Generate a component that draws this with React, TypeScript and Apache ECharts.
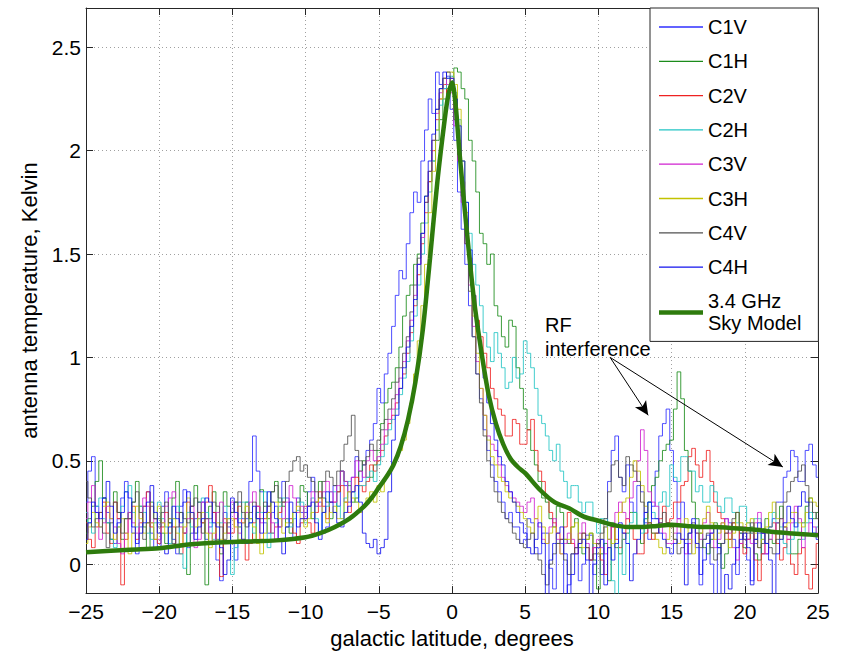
import React, { useEffect, useRef } from 'react';
import * as echarts from 'echarts';

// galactic latitude grid (degrees)
const latitude = [
  -25, -24.75, -24.5, -24.25, -24, -23.75, -23.5, -23.25, -23, -22.75, -22.5, -22.25, -22, -21.75, -21.5, -21.25, -21, -20.75, -20.5, -20.25,
  -20, -19.75, -19.5, -19.25, -19, -18.75, -18.5, -18.25, -18, -17.75, -17.5, -17.25, -17, -16.75, -16.5, -16.25, -16, -15.75, -15.5, -15.25,
  -15, -14.75, -14.5, -14.25, -14, -13.75, -13.5, -13.25, -13, -12.75, -12.5, -12.25, -12, -11.75, -11.5, -11.25, -11, -10.75, -10.5, -10.25,
  -10, -9.75, -9.5, -9.25, -9, -8.75, -8.5, -8.25, -8, -7.75, -7.5, -7.25, -7, -6.75, -6.5, -6.25, -6, -5.75, -5.5, -5.25,
  -5, -4.75, -4.5, -4.25, -4, -3.75, -3.5, -3.25, -3, -2.75, -2.5, -2.25, -2, -1.75, -1.5, -1.25, -1, -0.75, -0.5, -0.25,
  0, 0.25, 0.5, 0.75, 1, 1.25, 1.5, 1.75, 2, 2.25, 2.5, 2.75, 3, 3.25, 3.5, 3.75, 4, 4.25, 4.5, 4.75,
  5, 5.25, 5.5, 5.75, 6, 6.25, 6.5, 6.75, 7, 7.25, 7.5, 7.75, 8, 8.25, 8.5, 8.75, 9, 9.25, 9.5, 9.75,
  10, 10.25, 10.5, 10.75, 11, 11.25, 11.5, 11.75, 12, 12.25, 12.5, 12.75, 13, 13.25, 13.5, 13.75, 14, 14.25, 14.5, 14.75,
  15, 15.25, 15.5, 15.75, 16, 16.25, 16.5, 16.75, 17, 17.25, 17.5, 17.75, 18, 18.25, 18.5, 18.75, 19, 19.25, 19.5, 19.75,
  20, 20.25, 20.5, 20.75, 21, 21.25, 21.5, 21.75, 22, 22.25, 22.5, 22.75, 23, 23.25, 23.5, 23.75, 24, 24.25, 24.5, 24.75,
  25,
];

const c1v = [
  0.30, 0.45, 0.52, 0.28, 0.18, 0.32, 0.25, 0.12, 0.10, 0.22, 0.32, 0.40, 0.22, 0.15, 0.05, 0.18, 0.28, 0.35, 0.15, 0.08,
  0.20, 0.28, 0.35, 0.22, 0.12, 0.05, 0.28, 0.36, 0.08, 0.15, 0.22, 0.30, 0.30, 0.12, 0.18, 0.25, 0.02, -0.08, 0.25, 0.18,
  0.10, 0.02, 0.30, 0.22, 0.22, 0.40, 0.62, 0.45, 0.35, 0.20, 0.15, 0.25, 0.28, 0.18, 0.40, 0.32, 0.20, 0.12, 0.32, 0.25,
  0.25, 0.35, 0.42, 0.28, 0.30, 0.15, 0.18, 0.30, 0.38, 0.28, 0.45, 0.38, 0.30, 0.42, 0.52, 0.40, 0.48, 0.55, 0.60, 0.68,
  0.85, 0.78, 0.92, 1.02, 1.15, 1.30, 1.42, 1.38, 1.55, 1.70, 1.80, 1.75, 1.95, 2.10, 2.25, 2.18, 2.38, 2.32, 2.30, 2.36,
  2.20, 2.05, 1.80, 1.62, 1.45, 1.25, 1.10, 0.92, 0.80, 0.65, 0.55, 0.48, 0.40, 0.35, 0.30, 0.22, 0.25, 0.18, 0.18, 0.10,
  0.12, 0.22, 0.20, 0.08, 0.05, 0.15, 0.15, -0.02, -0.12, 0.10, 0.10, -0.15, -0.10, 0.05, 0.08, -0.08, 0.00, 0.14, 0.14, -0.05,
  0.05, -0.05, 0.18, 0.40, 0.55, 0.62, 0.42, 0.35, 0.48, 0.30, 0.25, 0.38, 0.35, 0.20, 0.12, 0.28, 0.45, 0.62, 0.68, 0.75,
  0.55, 0.40, 0.22, 0.30, 0.10, 0.05, 0.18, 0.08, -0.10, 0.12, 0.14, 0.00, -0.15, 0.08, 0.10, 0.22, 0.20, 0.12, -0.05, 0.15,
  0.12, 0.02, -0.08, 0.10, 0.15, 0.05, 0.05, 0.18, 0.22, 0.30, 0.30, 0.42, 0.45, 0.55, 0.52, 0.40, 0.40, 0.55, 0.58, 0.48,
  0.42,
];

const c1h = [
  0.15, 0.22, 0.28, 0.40, 0.50, 0.32, 0.20, 0.12, 0.35, 0.25, 0.12, 0.22, 0.25, 0.30, 0.40, 0.28, 0.18, 0.08, 0.30, 0.22,
  0.22, 0.15, 0.10, 0.20, 0.32, 0.40, 0.25, 0.15, -0.05, 0.28, 0.38, 0.30, 0.20, -0.10, 0.28, 0.35, 0.12, 0.05, 0.35, 0.28,
  0.25, 0.30, 0.18, 0.10, 0.30, 0.22, 0.12, 0.25, 0.36, 0.28, 0.22, 0.35, 0.40, 0.30, 0.28, 0.18, 0.15, 0.25, 0.30, 0.38,
  0.35, 0.28, 0.22, 0.30, 0.40, 0.32, 0.30, 0.22, 0.25, 0.35, 0.45, 0.40, 0.38, 0.30, 0.32, 0.45, 0.50, 0.42, 0.42, 0.48,
  0.55, 0.68, 0.78, 0.85, 0.88, 0.95, 1.05, 1.20, 1.30, 1.35, 1.45, 1.50, 1.65, 1.78, 1.85, 1.95, 2.05, 2.15, 2.25, 2.30,
  2.32, 2.40, 2.38, 2.30, 2.25, 2.05, 1.95, 1.80, 1.60, 1.55, 1.45, 1.50, 1.25, 1.20, 1.10, 1.05, 1.18, 1.15, 0.95, 0.85,
  0.75, 0.65, 0.55, 0.48, 0.40, 0.32, 0.30, 0.22, 0.18, 0.28, 0.25, 0.12, 0.10, 0.18, 0.22, 0.08, 0.05, 0.12, 0.15, 0.02,
  -0.12, 0.05, 0.10, -0.08, 0.20, 0.08, 0.05, 0.12, 0.15, 0.25, 0.25, 0.18, 0.10, 0.22, 0.30, 0.38, 0.42, 0.50, 0.55, 0.58,
  0.60, 0.75, 0.93, 0.80, 0.55, 0.45, 0.30, 0.22, 0.15, 0.08, 0.05, 0.12, 0.20, 0.10, -0.02, 0.05, 0.12, 0.20, 0.25, 0.15,
  0.08, 0.12, 0.18, 0.05, 0.02, 0.15, 0.22, 0.12, 0.10, 0.20, 0.28, 0.18, 0.15, 0.05, 0.05, 0.12, 0.20, 0.28, 0.32, 0.22,
  0.25,
];

const c2v = [
  0.20, 0.12, 0.08, 0.18, 0.25, 0.30, 0.15, 0.10, 0.30, 0.22, -0.10, 0.12, 0.22, 0.28, 0.12, 0.20, 0.28, 0.35, 0.18, 0.12,
  0.10, 0.18, 0.25, 0.15, 0.18, 0.08, 0.05, 0.15, 0.30, 0.22, 0.15, 0.25, 0.20, 0.30, 0.38, 0.25, 0.10, -0.06, 0.22, 0.15,
  0.15, 0.22, 0.28, 0.12, 0.02, 0.10, 0.20, 0.28, 0.12, 0.22, 0.25, 0.15, 0.18, 0.25, 0.30, 0.22, 0.22, 0.15, 0.10, 0.20,
  0.28, 0.20, 0.15, 0.25, 0.35, 0.28, 0.22, 0.30, 0.30, 0.35, 0.38, 0.30, 0.25, 0.35, 0.42, 0.38, 0.35, 0.40, 0.48, 0.45,
  0.50, 0.55, 0.62, 0.68, 0.72, 0.78, 0.85, 0.92, 1.02, 1.12, 1.25, 1.40, 1.55, 1.70, 1.85, 2.00, 2.15, 2.25, 2.32, 2.28,
  2.35, 2.20, 2.05, 1.85, 1.65, 1.48, 1.30, 1.18, 1.10, 1.02, 0.95, 0.85, 0.80, 0.75, 0.72, 0.62, 0.62, 0.70, 0.68, 0.58,
  0.58, 0.65, 0.70, 0.55, 0.45, 0.40, 0.32, 0.25, 0.20, 0.15, 0.12, 0.18, 0.25, 0.10, 0.05, 0.10, 0.15, 0.08, 0.02, 0.08,
  0.10, 0.02, -0.05, 0.08, 0.18, 0.12, 0.08, 0.15, 0.22, 0.18, 0.12, 0.05, 0.05, 0.15, 0.20, 0.12, 0.15, 0.22, 0.28, 0.20,
  0.22, 0.30, 0.30, 0.38, 0.40, 0.52, 0.56, 0.48, 0.42, 0.50, 0.55, 0.40, 0.30, 0.25, 0.22, 0.15, 0.12, 0.20, 0.18, 0.10,
  0.05, 0.12, 0.15, 0.02, -0.08, 0.05, 0.10, 0.18, 0.20, 0.10, 0.02, 0.08, 0.12, 0.00, -0.05, 0.05, 0.08, -0.05, -0.12, -0.02,
  0.10,
];

const c2h = [
  0.25, 0.20, 0.15, 0.28, 0.32, 0.22, 0.20, 0.12, 0.08, 0.18, 0.28, 0.35, 0.38, 0.25, 0.18, 0.28, 0.25, 0.15, 0.12, 0.20,
  0.30, 0.22, 0.18, 0.10, 0.22, 0.28, 0.05, -0.02, 0.25, 0.18, 0.15, 0.22, 0.32, 0.25, 0.20, 0.12, 0.10, 0.20, 0.28, 0.22,
  -0.05, 0.08, 0.22, 0.30, 0.30, 0.20, 0.15, 0.25, 0.25, 0.35, 0.08, 0.15, 0.20, 0.28, 0.32, 0.22, 0.18, 0.22, 0.26, 0.30,
  0.20, 0.28, 0.32, 0.22, 0.15, 0.25, 0.28, 0.35, 0.35, 0.28, 0.22, 0.32, 0.40, 0.35, 0.30, 0.38, 0.38, 0.42, 0.45, 0.40,
  0.48, 0.52, 0.58, 0.65, 0.70, 0.75, 0.82, 0.90, 0.98, 1.08, 1.20, 1.35, 1.50, 1.65, 1.80, 1.95, 2.10, 2.22, 2.30, 2.35,
  2.36, 2.28, 2.15, 1.95, 1.75, 1.60, 1.45, 1.35, 1.25, 1.12, 1.05, 0.98, 1.12, 1.02, 0.95, 0.85, 0.88, 1.00, 0.90, 0.92,
  1.08, 1.02, 0.95, 0.85, 0.72, 0.68, 0.62, 0.55, 0.50, 0.58, 0.45, 0.40, 0.32, 0.38, 0.38, 0.30, 0.25, 0.30, 0.30, 0.22,
  0.15, 0.22, 0.22, 0.12, -0.08, -0.15, 0.18, -0.05, 0.10, 0.20, 0.25, 0.18, 0.15, 0.22, 0.30, 0.25, 0.22, 0.30, 0.35, 0.28,
  0.48, 0.42, 0.40, 0.52, 0.52, 0.45, 0.45, 0.35, 0.38, 0.30, 0.30, 0.38, 0.35, 0.28, 0.25, 0.32, 0.32, 0.25, 0.20, 0.28,
  0.28, 0.20, 0.15, 0.22, 0.22, 0.12, 0.10, 0.18, 0.25, 0.20, 0.18, 0.10, 0.05, 0.12, 0.20, 0.15, 0.12, 0.20, 0.25, 0.15,
  0.18,
];

const c3v = [
  0.22, 0.30, 0.38, 0.25, 0.12, 0.20, 0.28, 0.22, 0.18, 0.10, 0.05, 0.15, 0.25, 0.20, 0.15, 0.25, 0.32, 0.28, 0.20, 0.22,
  0.12, 0.20, 0.28, 0.32, 0.35, 0.25, 0.18, 0.15, 0.22, 0.28, 0.08, 0.12, 0.30, 0.22, 0.15, 0.10, 0.25, 0.30, 0.20, 0.15,
  0.30, 0.22, 0.15, 0.20, 0.25, 0.30, 0.35, 0.28, 0.20, 0.25, 0.28, 0.20, 0.12, 0.18, 0.22, 0.30, 0.38, 0.32, 0.25, 0.28,
  0.22, 0.28, 0.35, 0.30, 0.28, 0.35, 0.40, 0.35, 0.30, 0.38, 0.45, 0.40, 0.35, 0.42, 0.50, 0.45, 0.42, 0.50, 0.55, 0.50,
  0.52, 0.58, 0.65, 0.70, 0.75, 0.82, 0.90, 0.98, 1.08, 1.18, 1.30, 1.45, 1.58, 1.75, 1.90, 2.05, 2.18, 2.28, 2.35, 2.32,
  2.28, 2.12, 1.95, 1.75, 1.55, 1.35, 1.15, 0.98, 0.85, 0.72, 0.62, 0.58, 0.55, 0.48, 0.42, 0.38, 0.35, 0.32, 0.30, 0.28,
  0.25, 0.30, 0.32, 0.22, 0.18, 0.12, 0.10, 0.18, 0.22, 0.12, 0.05, 0.10, 0.15, 0.12, 0.08, 0.15, 0.20, 0.10, 0.02, 0.08,
  0.12, 0.08, 0.05, 0.12, 0.18, 0.25, 0.30, 0.25, 0.22, 0.32, 0.40, 0.50, 0.65, 0.55, 0.35, 0.30, 0.28, 0.20, 0.15, 0.10,
  0.10, 0.15, 0.22, 0.12, 0.05, 0.10, 0.18, 0.15, 0.12, 0.20, 0.25, 0.15, 0.08, 0.12, 0.20, 0.22, 0.15, 0.08, 0.02, 0.10,
  0.18, 0.12, 0.10, 0.20, 0.25, 0.15, 0.05, 0.12, 0.15, 0.20, 0.22, 0.18, 0.12, 0.20, 0.28, 0.22, 0.08, 0.15, 0.20, 0.18,
  0.15,
];

const c3h = [
  0.10, 0.18, 0.25, 0.20, 0.18, 0.28, 0.30, 0.22, 0.12, 0.18, 0.22, 0.15, 0.05, 0.15, 0.28, 0.22, 0.15, 0.20, 0.20, 0.12,
  0.28, 0.20, 0.15, 0.22, 0.22, 0.15, 0.10, 0.18, 0.32, 0.25, 0.18, 0.22, 0.25, 0.15, 0.08, 0.15, 0.20, 0.12, 0.15, 0.22,
  0.22, 0.18, 0.12, 0.20, 0.28, 0.22, 0.18, 0.10, 0.05, 0.15, 0.25, 0.30, 0.30, 0.22, 0.15, 0.20, 0.20, 0.25, 0.28, 0.22,
  0.18, 0.22, 0.25, 0.30, 0.32, 0.25, 0.20, 0.25, 0.28, 0.22, 0.22, 0.30, 0.35, 0.32, 0.30, 0.25, 0.28, 0.32, 0.35, 0.30,
  0.38, 0.35, 0.42, 0.45, 0.48, 0.52, 0.55, 0.60, 0.68, 0.78, 0.92, 1.08, 1.25, 1.45, 1.70, 1.90, 2.10, 2.25, 2.35, 2.38,
  2.38, 2.32, 2.20, 1.95, 1.70, 1.45, 1.20, 1.02, 0.85, 0.72, 0.60, 0.52, 0.48, 0.42, 0.40, 0.35, 0.32, 0.30, 0.28, 0.25,
  0.22, 0.18, 0.15, 0.22, 0.28, 0.18, 0.10, 0.15, 0.18, 0.10, 0.05, 0.12, 0.12, 0.18, 0.20, 0.12, 0.08, 0.12, 0.15, 0.10,
  0.05, 0.12, 0.18, 0.12, 0.10, 0.18, 0.25, 0.30, 0.32, 0.42, 0.50, 0.45, 0.38, 0.28, 0.20, 0.15, 0.12, 0.08, 0.05, 0.12,
  0.18, 0.12, 0.10, 0.18, 0.22, 0.12, 0.05, 0.10, 0.15, 0.22, 0.28, 0.20, 0.12, 0.15, 0.20, 0.12, 0.08, 0.15, 0.25, 0.20,
  0.15, 0.20, 0.22, 0.15, 0.08, 0.12, 0.18, 0.25, 0.30, 0.22, 0.12, 0.18, 0.20, 0.25, 0.25, 0.20, 0.18, 0.25, 0.32, 0.30,
  0.28,
];

const c4v = [
  0.40, 0.32, 0.18, 0.22, 0.25, 0.15, 0.08, 0.20, 0.30, 0.25, 0.15, 0.22, 0.22, 0.30, 0.35, 0.25, 0.12, 0.20, 0.28, 0.22,
  0.18, 0.25, 0.30, 0.20, 0.10, 0.18, 0.25, 0.22, 0.20, 0.28, 0.32, 0.25, 0.15, 0.22, 0.22, 0.30, 0.28, 0.18, 0.12, 0.20,
  0.25, 0.30, 0.35, 0.25, 0.18, 0.25, 0.30, 0.22, 0.22, 0.30, 0.28, 0.35, 0.38, 0.32, 0.30, 0.40, 0.45, 0.50, 0.52, 0.45,
  0.48, 0.42, 0.40, 0.35, 0.32, 0.40, 0.45, 0.42, 0.38, 0.45, 0.50, 0.58, 0.62, 0.72, 0.55, 0.50, 0.48, 0.52, 0.58, 0.55,
  0.60, 0.65, 0.70, 0.75, 0.80, 0.88, 0.95, 1.02, 1.10, 1.22, 1.35, 1.48, 1.60, 1.75, 1.90, 2.05, 2.20, 2.30, 2.35, 2.38,
  2.30, 2.15, 1.98, 1.78, 1.55, 1.32, 1.10, 0.92, 0.78, 0.62, 0.50, 0.42, 0.35, 0.30, 0.25, 0.22, 0.20, 0.15, 0.12, 0.10,
  0.08, 0.12, 0.15, 0.05, 0.02, -0.05, -0.10, 0.00, 0.05, 0.10, 0.12, 0.02, -0.05, 0.05, 0.08, 0.12, 0.15, 0.08, 0.02, 0.05,
  0.10, 0.15, 0.22, 0.35, 0.48, 0.50, 0.42, 0.38, 0.52, 0.48, 0.45, 0.40, 0.30, 0.25, 0.20, 0.15, 0.15, 0.20, 0.25, 0.20,
  0.18, 0.12, 0.05, 0.08, 0.12, 0.15, 0.20, 0.15, 0.08, 0.12, 0.15, 0.08, 0.02, 0.05, 0.10, 0.15, 0.18, 0.22, 0.25, 0.18,
  0.12, 0.15, 0.20, 0.12, 0.08, 0.10, 0.15, 0.08, 0.05, 0.12, 0.22, 0.30, 0.35, 0.40, 0.42, 0.45, 0.48, 0.38, 0.30, 0.25,
  0.22,
];

const c4h = [
  0.12, 0.20, 0.30, 0.25, 0.22, 0.32, 0.40, 0.28, 0.15, 0.20, 0.25, 0.35, 0.32, 0.18, 0.10, 0.15, 0.20, 0.30, 0.38, 0.25,
  0.15, 0.08, 0.05, 0.18, 0.28, 0.22, 0.20, 0.30, 0.35, 0.25, 0.12, 0.18, 0.22, 0.32, 0.30, 0.20, 0.18, 0.08, -0.05, 0.02,
  0.32, 0.25, 0.20, 0.12, 0.10, 0.20, 0.28, 0.22, 0.15, 0.25, 0.35, 0.30, 0.22, 0.12, 0.05, 0.18, 0.30, 0.25, 0.18, 0.22,
  0.22, 0.28, 0.30, 0.20, 0.12, 0.25, 0.35, 0.30, 0.25, 0.20, 0.18, 0.25, 0.28, 0.35, 0.38, 0.30, 0.15, 0.10, 0.08, 0.12,
  0.05, 0.08, 0.12, 0.35, 0.60, 0.72, 0.85, 0.95, 1.05, 1.15, 1.28, 1.45, 1.60, 1.78, 1.95, 2.08, 2.20, 2.30, 2.38, 2.35,
  2.35, 2.25, 2.12, 1.95, 1.75, 1.52, 1.30, 1.15, 1.02, 0.90, 0.78, 0.68, 0.60, 0.52, 0.48, 0.40, 0.35, 0.30, 0.25, 0.20,
  0.15, 0.08, 0.05, 0.12, 0.20, 0.10, -0.15, 0.02, 0.10, 0.15, 0.18, 0.05, -0.18, -0.05, 0.05, 0.10, 0.12, 0.02, -0.15, 0.00,
  0.08, 0.12, -0.10, 0.08, 0.02, 0.10, 0.20, 0.15, 0.10, -0.08, 0.05, 0.12, 0.18, 0.25, 0.30, 0.22, 0.22, 0.15, 0.12, 0.08,
  0.05, 0.10, 0.15, 0.12, -0.10, 0.15, 0.22, 0.10, -0.05, 0.02, 0.10, 0.15, 0.18, 0.08, -0.15, -0.05, -0.12, 0.00, 0.08, 0.12,
  0.15, 0.08, -0.10, 0.12, 0.20, 0.15, 0.10, 0.02, -0.15, 0.05, 0.12, 0.20, 0.28, 0.22, 0.18, 0.28, 0.35, 0.30, 0.22, 0.15,
  0.12,
];

// 3.4 GHz sky model (smooth)
const skyLatitude = [
  -25, -22, -20, -18, -16, -14, -12, -10, -9, -8, -7, -6, -5.5, -5, -4.5, -4, -3.5, -3, -2.5, -2, -1.5, -1, -0.5, -0.25,
  0, 0.25, 0.5, 1, 1.5, 2, 2.5, 3, 3.5, 4, 4.5, 5, 6, 7, 8, 9, 10, 11, 12, 13, 14, 15, 16, 17, 18, 19, 20, 21, 22, 23, 24, 25,
];
const skyModel = [
  0.058, 0.07, 0.077, 0.095, 0.105, 0.11, 0.115, 0.13, 0.15, 0.18, 0.22, 0.28, 0.32, 0.37, 0.42, 0.48, 0.57, 0.70, 0.88, 1.13, 1.48, 1.85, 2.15, 2.27,
  2.33, 2.22, 2.0, 1.62, 1.28, 1.03, 0.82, 0.68, 0.58, 0.51, 0.47, 0.44, 0.36, 0.30, 0.27, 0.23, 0.21, 0.19, 0.18, 0.18, 0.185, 0.19, 0.185, 0.18, 0.18, 0.175, 0.17, 0.165, 0.155, 0.15, 0.145, 0.14,
];

const seriesNames = ['C1V', 'C1H', 'C2V', 'C2H', 'C3V', 'C3H', 'C4V', 'C4H'];
const seriesValues = [c1v, c1h, c2v, c2h, c3v, c3h, c4v, c4h];
const seriesColors = ['#2f2fff', '#1b8c1b', '#ee2222', '#22c4c4', '#d022d0', '#c2c200', '#505050', '#1212ee'];
const skyName = '3.4 GHz\nSky Model';
const skyColor = '#2e7b0d';

// annotation arrows: from label to the RF features (data coordinates)
const arrowStart = [10.8, 1.0];
const arrowEnds = [[13.4, 0.72], [22.6, 0.47]];

const FONT = 'Liberation Sans, Arial, Helvetica, sans-serif';

export default function App() {
  const ref = useRef<HTMLDivElement>(null);
  useEffect(() => {
    if (!ref.current) return;
    const chart = echarts.init(ref.current, undefined, { renderer: 'svg' });
    const axisColor = '#262626';
    const noisy = seriesNames.map((name, i) => ({
      name,
      type: 'line',
      data: latitude.map((x, j) => [x, seriesValues[i][j]]),
      step: 'middle',
      symbol: 'none',
      showSymbol: false,
      lineStyle: { color: seriesColors[i], width: 1, opacity: 0.85 },
      itemStyle: { color: seriesColors[i] },
      emphasis: { disabled: true },
      silent: true,
      z: 2,
    }));
    const legendData = [
      ...seriesNames.map((n) => ({ name: n, icon: 'path://M0,0H44V1.3H0Z' })),
      { name: skyName, icon: 'path://M0,0H44V4.5H0Z' },
    ];
    const option: any = {
      animation: false,
      textStyle: { fontFamily: FONT },
      grid: { left: 86, right: 24, top: 8, bottom: 52, containLabel: false },
      legend: {
        data: legendData,
        orient: 'vertical',
        left: 650,
        top: 8,
        itemWidth: 44,
        itemHeight: 14,
        itemGap: 12.3,
        padding: [8, 17, 7, 9],
        backgroundColor: '#fff',
        borderColor: axisColor,
        borderWidth: 1,
        borderRadius: 0,
        selectedMode: false,
        textStyle: { fontSize: 20, color: '#000', fontFamily: FONT, lineHeight: 22 },
        z: 10,
      },
      xAxis: [
        {
          type: 'value', min: -25, max: 25, interval: 5, position: 'bottom',
          axisLine: { show: true, onZero: false, lineStyle: { color: axisColor, width: 1 } },
          axisTick: { show: true, inside: true, length: 7, lineStyle: { color: axisColor } },
          axisLabel: {
            fontSize: 21, color: '#000', margin: 8, fontFamily: FONT,
            formatter: (v: number) => String(v).replace('-', '\u2212'),
          },
          splitLine: { show: true, lineStyle: { color: '#a0a0a0', type: [1, 3], width: 1 } },
          name: 'galactic latitude, degrees', nameLocation: 'middle', nameGap: 30,
          nameTextStyle: { fontSize: 22, color: '#000', fontFamily: FONT },
        },
        {
          type: 'value', min: -25, max: 25, interval: 5, position: 'top',
          axisLine: { show: true, onZero: false, lineStyle: { color: axisColor, width: 1 } },
          axisTick: { show: true, inside: true, length: 7, lineStyle: { color: axisColor } },
          axisLabel: { show: false },
          splitLine: { show: false },
        },
      ],
      yAxis: [
        {
          type: 'value', min: -0.14, max: 2.69, splitNumber: 5, position: 'left',
          axisLine: { show: true, onZero: false, lineStyle: { color: axisColor, width: 1 } },
          axisTick: { show: true, inside: true, length: 7, lineStyle: { color: axisColor } },
          axisLabel: {
            fontSize: 21, color: '#000', margin: 5, fontFamily: FONT,
            formatter: (v: number) => (Math.abs(v * 2 - Math.round(v * 2)) < 1e-6 ? String(v) : ''),
          },
          splitLine: { show: true, lineStyle: { color: '#a0a0a0', type: [1, 3], width: 1 } },
          name: 'antenna temperature, Kelvin', nameLocation: 'middle', nameGap: 41,
          nameTextStyle: { fontSize: 22, color: '#000', fontFamily: FONT },
        },
        {
          type: 'value', min: -0.14, max: 2.69, splitNumber: 5, position: 'right',
          axisLine: { show: true, onZero: false, lineStyle: { color: axisColor, width: 1 } },
          axisTick: { show: true, inside: true, length: 7, lineStyle: { color: axisColor } },
          axisLabel: { show: false },
          splitLine: { show: false },
        },
      ],
      series: [
        ...noisy,
        {
          name: skyName,
          type: 'line',
          data: skyLatitude.map((x, j) => [x, skyModel[j]]),
          symbol: 'none',
          showSymbol: false,
          smooth: 0.3,
          lineStyle: { color: skyColor, width: 4.5 },
          itemStyle: { color: skyColor },
          emphasis: { disabled: true },
          silent: true,
          z: 3,
          markLine: {
            silent: true,
            symbol: ['none', 'arrow'],
            symbolSize: [10, 14],
            label: { show: false },
            lineStyle: { color: '#000', width: 1, type: 'solid' },
            emphasis: { disabled: true },
            data: arrowEnds.map((e) => [{ coord: arrowStart }, { coord: e }]),
          },
        },
      ],
      graphic: [
        {
          type: 'text', left: 545, top: 313, z: 20,
          style: { text: 'RF\ninterference', fontSize: 20, lineHeight: 24, fill: '#000', fontFamily: FONT },
        },
      ],
    };
    chart.setOption(option);
    return () => chart.dispose();
  }, []);
  return <div ref={ref} style={{ position: 'absolute', left: 0, top: 0, width: 842, height: 654 }} />;
}
